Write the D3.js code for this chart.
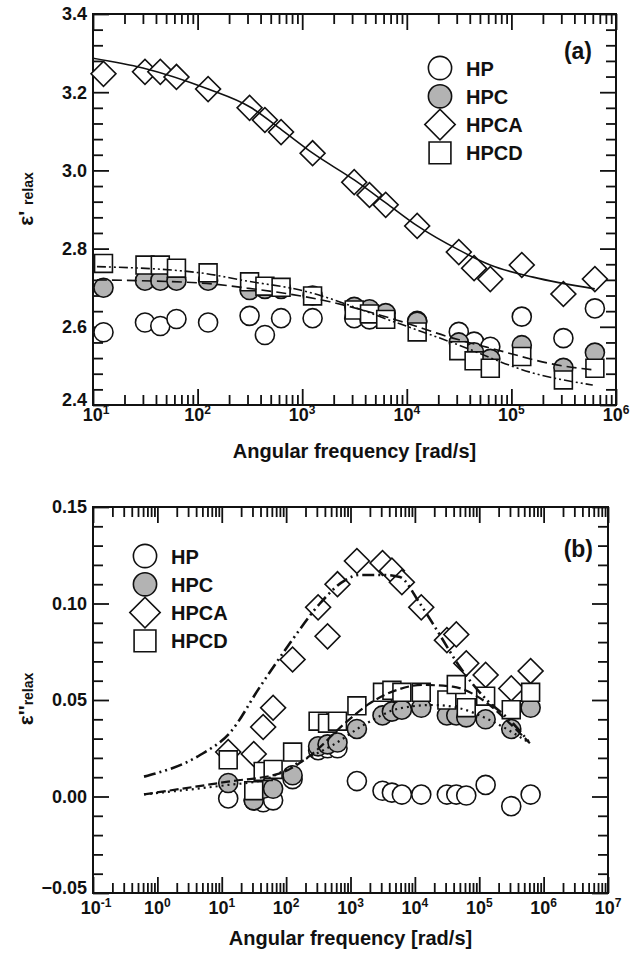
<!DOCTYPE html>
<html lang="en">
<head>
<meta charset="UTF-8">
<title>Relaxation permittivity</title>
<script src="https://cdn.jsdelivr.net/npm/d3@7"></script>
<style>
  body { margin: 0; background: #fff; }
  text { font-family: "Liberation Sans", Arial, sans-serif; font-weight: bold; fill: #111; }
</style>
</head>
<body>
<script>
// angular frequencies shared by every series [rad/s]
var omega = [12.6, 31.4, 44.0, 62.8, 126, 314, 440, 628, 1257, 3142, 4398, 6283,
             12566, 31416, 43982, 62832, 125664, 314159, 628319];

var seriesNames = ["HP", "HPC", "HPCA", "HPCD"];

// panel (a): real part eps'
var realHP   = [2.586, 2.611, 2.602, 2.620, 2.611, 2.628, 2.579, 2.622, 2.622, 2.622, 2.619, 2.622,
                2.615, 2.587, 2.562, 2.549, 2.626, 2.571, 2.647];
var realHPC  = [2.700, 2.718, 2.718, 2.718, 2.718, 2.694, 2.697, 2.697, 2.680, 2.651, 2.645, 2.635,
                2.613, 2.560, 2.535, 2.518, 2.553, 2.495, 2.534];
var realHPCA = [3.247, 3.252, 3.252, 3.239, 3.208, 3.160, 3.129, 3.098, 3.044, 2.970, 2.937, 2.912,
                2.858, 2.791, 2.750, 2.722, 2.758, 2.684, 2.722];
var realHPCD = [2.762, 2.758, 2.758, 2.750, 2.738, 2.715, 2.704, 2.701, 2.679, 2.643, 2.633, 2.619,
                2.587, 2.539, 2.513, 2.494, 2.524, 2.464, 2.494];

// panel (b): imaginary part eps''
var lossHP   = [-0.001, -0.002, -0.003, -0.002, 0.009, 0.024, 0.025, 0.025, 0.008, 0.003, 0.002, 0.001,
                0.001, 0.001, 0.001, 0.0005, 0.006, -0.005, 0.001];
var lossHPC  = [0.007, -0.002, 0.004, 0.004, 0.011, 0.026, 0.027, 0.028, 0.035, 0.042, 0.044, 0.045,
                0.046, 0.042, 0.042, 0.041, 0.040, 0.035, 0.046];
var lossHPCA = [0.023, 0.022, 0.036, 0.046, 0.071, 0.098, 0.083, 0.110, 0.122, 0.121, 0.117, 0.111,
                0.098, 0.081, 0.084, 0.069, 0.063, 0.056, 0.065];
var lossHPCD = [0.019, 0.003, 0.013, 0.014, 0.023, 0.039, 0.038, 0.039, 0.047, 0.054, 0.055, 0.054,
                0.054, 0.050, 0.058, 0.046, 0.052, 0.045, 0.054];

// fitted curves, [omega, value]
var fitRealHPCA = [[10, 3.287], [30, 3.262], [126, 3.208], [317, 3.162], [640, 3.103], [1262, 3.044],
                   [3168, 2.975], [6309, 2.917], [12630, 2.858], [31700, 2.796], [62700, 2.758],
                   [161000, 2.727], [627000, 2.697]];
var fitRealHPC  = [[10.9, 2.720], [106, 2.712], [297, 2.699], [1845, 2.664], [8070, 2.617],
                   [27600, 2.571], [58000, 2.548], [310000, 2.500], [600000, 2.490]];
var fitRealHPCD = [[10.9, 2.754], [106, 2.738], [297, 2.717], [955, 2.694], [8070, 2.610],
                   [27600, 2.559], [160000, 2.482], [600000, 2.451]];

var fitLossHPCA = [[0.62, 0.0103], [4.6, 0.0215], [13.4, 0.033], [39, 0.0567], [115, 0.0795],
                   [335, 0.100], [818, 0.112], [1400, 0.1148], [3420, 0.1148], [5850, 0.1137],
                   [11960, 0.100], [21900, 0.0863], [50000, 0.0671], [131000, 0.050],
                   [298000, 0.0396], [611000, 0.0277]];
var fitLossHPCD = [[0.62, 0.0011], [12.5, 0.0077], [80, 0.012], [261, 0.0224], [762, 0.037],
                   [2000, 0.0483], [5250, 0.0552], [13300, 0.0578], [38900, 0.0569],
                   [113700, 0.050], [298000, 0.0379], [611000, 0.0276]];
var fitLossHPC  = [[0.62, 0.0011], [12.5, 0.006], [43.6, 0.0085], [164, 0.018], [533, 0.0267],
                   [1800, 0.038], [5850, 0.0457], [19000, 0.0474], [50000, 0.0457],
                   [146000, 0.0396], [611000, 0.0276]];

var svg = d3.select("body").append("svg")
    .attr("width", 642)
    .attr("height", 955);

var marker = {
    HP:   {type: d3.symbolCircle, size: 285, fill: "#fff", rot: 0},
    HPC:  {type: d3.symbolCircle, size: 285, fill: "#b3b3b3", rot: 0},
    HPCA: {type: d3.symbolSquare, size: 310, fill: "#fff", rot: 45},
    HPCD: {type: d3.symbolSquare, size: 320, fill: "#fff", rot: 0}
};

function drawMarker(g, name, cx, cy, scale) {
    var m = marker[name];
    g.append("path")
        .attr("d", d3.symbol().type(m.type).size(m.size * scale * scale)())
        .attr("transform", "translate(" + cx + "," + cy + ") rotate(" + m.rot + ")")
        .attr("fill", m.fill)
        .attr("stroke", "#111")
        .attr("stroke-width", 1.6);
}

function drawPanel(p) {
    var x = d3.scaleLog().domain([Math.pow(10, p.xExp[0]), Math.pow(10, p.xExp[1])]).range([p.left, p.right]);
    var y = d3.scaleLinear().domain(p.yDomain).range([p.bottom, p.top]);
    var g = svg.append("g");

    // tick values
    var majorX = d3.range(p.xExp[0], p.xExp[1] + 1).map(function(e) { return Math.pow(10, e); });
    var minorX = [];
    for (var e = p.xExp[0]; e < p.xExp[1]; e++) {
        for (var k = 2; k <= 9; k++) minorX.push(k * Math.pow(10, e));
    }
    var nMaj = Math.round((p.yDomain[1] - p.yDomain[0]) / p.yMajor);
    var majorY = d3.range(nMaj + 1).map(function(i) { return +(p.yDomain[0] + i * p.yMajor).toFixed(4); });
    var nMin = Math.round((p.yDomain[1] - p.yDomain[0]) / p.yMinor);
    var minorY = d3.range(nMin + 1).map(function(i) { return +(p.yDomain[0] + i * p.yMinor).toFixed(4); })
        .filter(function(v) { return majorY.indexOf(v) < 0; });

    function tickRow(axisFn, scale, values, size, tr) {
        g.append("g").attr("transform", tr)
            .call(axisFn(scale).tickValues(values).tickSize(-size).tickFormat(""))
            .call(function(s) {
                s.select(".domain").remove();
                s.selectAll("line").attr("stroke", "#111").attr("stroke-width", 1.8);
            });
    }
    [[majorX, 16], [minorX, 10]].forEach(function(t) {
        tickRow(d3.axisBottom, x, t[0], t[1], "translate(0," + p.bottom + ")");
        tickRow(d3.axisTop, x, t[0], t[1], "translate(0," + p.top + ")");
    });
    [[majorY, 16], [minorY, 10]].forEach(function(t) {
        tickRow(d3.axisLeft, y, t[0], t[1], "translate(" + p.left + ",0)");
        tickRow(d3.axisRight, y, t[0], t[1], "translate(" + p.right + ",0)");
    });

    g.append("rect")
        .attr("x", p.left).attr("y", p.top)
        .attr("width", p.right - p.left).attr("height", p.bottom - p.top)
        .attr("fill", "none").attr("stroke", "#111").attr("stroke-width", 2);

    // y tick labels (lowest one lifted a little so it clears the 10^n label)
    g.selectAll(".ylab").data(majorY).enter().append("text")
        .attr("x", p.left - 6)
        .attr("y", function(d, i) { return y(d) - (i === 0 ? 5 : 0); })
        .attr("dy", "0.36em").attr("text-anchor", "end")
        .style("font-size", "18px")
        .text(d3.format(p.yFmt));

    // x tick labels 10^n
    g.selectAll(".xlab").data(majorX).enter().append("text")
        .attr("x", function(d, i) { return x(d) + (i === 0 ? 3 : 0); })
        .attr("y", p.bottom + p.xLabGap)
        .attr("text-anchor", "middle")
        .style("font-size", "18px")
        .each(function(d) {
            var t = d3.select(this);
            t.append("tspan").text("10");
            t.append("tspan").attr("dy", -7).style("font-size", "12px")
                .text(Math.round(Math.log10(d)));
        });

    g.append("text")
        .attr("x", (p.left + p.right) / 2).attr("y", p.titleY)
        .attr("text-anchor", "middle").style("font-size", "20px")
        .text("Angular frequency [rad/s]");

    var yl = g.append("text")
        .attr("transform", "translate(33," + p.yTitleY + ") rotate(-90)")
        .attr("text-anchor", "middle");
    yl.append("tspan").style("font-size", "21px").text(p.eps);
    yl.append("tspan").style("font-size", "14px").text(p.sub);

    // markers
    var marks = g.append("g");
    seriesNames.forEach(function(name, i) {
        p.values[i].forEach(function(v, j) {
            drawMarker(marks, name, x(omega[j]), y(v), 1);
        });
    });

    // fitted lines
    var line = d3.line()
        .x(function(d) { return x(d[0]); })
        .y(function(d) { return y(d[1]); })
        .curve(d3.curveMonotoneX);
    p.fits.forEach(function(f) {
        g.append("path").datum(f.data)
            .attr("d", line)
            .attr("fill", "none").attr("stroke", "#111")
            .attr("stroke-width", f.w)
            .attr("stroke-dasharray", f.dash);
    });

    // legend
    seriesNames.forEach(function(name, i) {
        var ly = p.legY + i * 28.3;
        drawMarker(g, name, p.legX, ly, 1.22);
        g.append("text").attr("x", p.legX + 26).attr("y", ly + 7.5)
            .style("font-size", "20px").text(name);
    });
    g.append("text").attr("x", p.tagX).attr("y", p.tagY)
        .attr("text-anchor", "end").style("font-size", "23px").text(p.tag);
}

drawPanel({
    left: 93, right: 616, top: 14, bottom: 405,
    xExp: [1, 6], yDomain: [2.4, 3.4], yMajor: 0.2, yMinor: 0.04, yFmt: ".1f",
    xLabGap: 16, titleY: 458, yTitleY: 199,
    eps: "\u03b5' ", sub: "relax",
    values: [realHP, realHPC, realHPCA, realHPCD],
    fits: [
        {data: fitRealHPCA, w: 1.6, dash: null},
        {data: fitRealHPC, w: 1.6, dash: "10,5"},
        {data: fitRealHPCD, w: 1.6, dash: "9,3,2,3,2,3"}
    ],
    legX: 440, legY: 68, tag: "(a)", tagX: 592, tagY: 59
});

drawPanel({
    left: 93, right: 608, top: 507, bottom: 893,
    xExp: [-1, 7], yDomain: [-0.05, 0.15], yMajor: 0.05, yMinor: 0.01, yFmt: ".2f",
    xLabGap: 21, titleY: 945, yTitleY: 699,
    eps: "\u03b5''", sub: "relax",
    values: [lossHP, lossHPC, lossHPCA, lossHPCD],
    fits: [
        {data: fitLossHPCA, w: 2.6, dash: "12,4,2,4,2,4"},
        {data: fitLossHPCD, w: 2.2, dash: "9,4"},
        {data: fitLossHPC, w: 2.2, dash: "2,4"}
    ],
    legX: 145, legY: 556, tag: "(b)", tagX: 593, tagY: 557
});
</script>
</body>
</html>
